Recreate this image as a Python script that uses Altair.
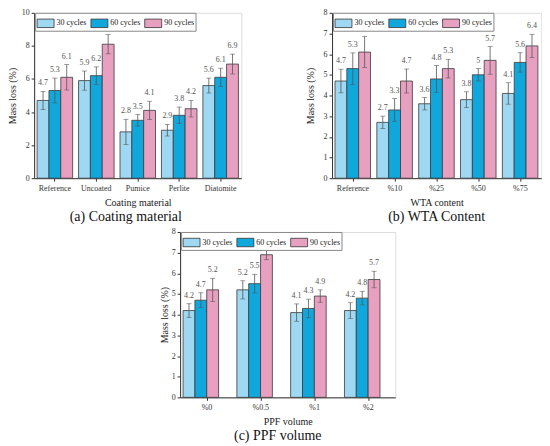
import altair as alt
import pandas as pd

SERIES = ["30 cycles", "60 cycles", "90 cycles"]
COLORS = ["#9ED8F2", "#10A8DC", "#E8A0C0"]

A_cats = ["Reference", "Uncoated", "Pumice", "Perlite", "Diatomite"]
A_30 = [4.7, 5.9, 2.8, 2.9, 5.6]
A_60 = [5.3, 6.2, 3.5, 3.8, 6.1]
A_90 = [6.1, 8.1, 4.1, 4.2, 6.9]
A_e30 = [0.55, 0.58, 0.76, 0.35, 0.45]
A_e60 = [0.75, 0.53, 0.35, 0.5, 0.55]
A_e90 = [0.77, 0.58, 0.55, 0.5, 0.6]

B_cats = ["Reference", "%10", "%25", "%50", "%75"]
B_30 = [4.7, 2.7, 3.6, 3.8, 4.1]
B_60 = [5.3, 3.3, 4.8, 5.0, 5.6]
B_90 = [6.1, 4.7, 5.3, 5.7, 6.4]
B_e30 = [0.57, 0.3, 0.3, 0.38, 0.52]
B_e60 = [0.76, 0.55, 0.65, 0.3, 0.47]
B_e90 = [0.75, 0.58, 0.45, 0.67, 0.56]

C_cats = ["%0", "%0.5", "%1", "%2"]
C_30 = [4.2, 5.2, 4.1, 4.2]
C_60 = [4.7, 5.5, 4.3, 4.8]
C_90 = [5.2, 6.9, 4.9, 5.7]
C_e30 = [0.33, 0.44, 0.42, 0.38]
C_e60 = [0.36, 0.45, 0.45, 0.33]
C_e90 = [0.56, 0.24, 0.3, 0.4]

FONT = "Liberation Serif"
H = 166


def make_df(cats, vals, errs):
    rows = []
    for s, v_list, e_list in zip(SERIES, vals, errs):
        for c, v, e in zip(cats, v_list, e_list):
            rows.append({"cat": c, "series": s, "value": v,
                         "lo": v - e, "hi": v + e, "label": f"{v:g}"})
    return pd.DataFrame(rows)


def panel(cats, vals, errs, xtitle, caption, ymax, yvals, width, pad,
          title_pad, cap_dx):
    df = make_df(cats, vals, errs)
    base = alt.Chart(df).encode(
        x=alt.X("cat:N", sort=cats,
                scale=alt.Scale(paddingInner=0, paddingOuter=0),
                axis=alt.Axis(title=xtitle, labelAngle=0, labelFont=FONT,
                              labelFontSize=8, labelColor="#333",
                              titleFont=FONT, titleFontSize=10,
                              titleFontWeight="normal", titleColor="#222",
                              titlePadding=5, domainColor="#333",
                              tickColor="#333", tickSize=3, labelPadding=3,
                              labelOverlap=False)),
        xOffset=alt.XOffset("series:N", sort=SERIES,
                            scale=alt.Scale(paddingInner=0, paddingOuter=pad)),
    )
    yscale = alt.Scale(domain=[0, ymax], nice=False)

    def yaxis():
        return alt.Axis(title="Mass loss (%)", values=yvals, grid=False,
                        labelFont=FONT, labelFontSize=8, labelColor="#333",
                        titleFont=FONT, titleFontSize=10,
                        titleFontWeight="normal",
                        titleColor="#222", titlePadding=title_pad,
                        domainColor="#333", tickColor="#333", tickSize=3,
                        labelPadding=2, labelOverlap=False, labelFlush=False)

    bars = base.mark_bar(stroke="#3a3a3a", strokeWidth=0.8).encode(
        y=alt.Y("value:Q", scale=yscale, axis=yaxis()),
        color=alt.Color("series:N", sort=SERIES,
                        scale=alt.Scale(domain=SERIES, range=COLORS),
                        legend=alt.Legend(
                            orient="none", legendX=1, legendY=0,
                            direction="horizontal", title=None,
                            symbolType="M-1,-0.5H1V0.5H-1Z", symbolSize=289,
                            symbolStrokeColor="#333", symbolStrokeWidth=0.8,
                            symbolOpacity=1,
                            labelFont=FONT, labelFontSize=8,
                            labelColor="#222", labelOffset=2,
                            columnPadding=2, padding=1.5,
                            fillColor="white", strokeColor="#888")),
    )
    rule = base.mark_rule(color="#555", strokeWidth=0.8).encode(
        y=alt.Y("lo:Q", scale=yscale, axis=yaxis()), y2="hi:Q")
    cap_hi = base.mark_tick(color="#555", size=5, thickness=0.8).encode(
        y=alt.Y("hi:Q", scale=yscale, axis=yaxis()))
    cap_lo = base.mark_tick(color="#555", size=5, thickness=0.8).encode(
        y=alt.Y("lo:Q", scale=yscale, axis=yaxis()))
    text = base.mark_text(font=FONT, fontSize=8, color="#555", dy=-4,
                          baseline="bottom").encode(
        y=alt.Y("hi:Q", scale=yscale, axis=yaxis()), text="label:N")
    return alt.layer(bars, rule, cap_hi, cap_lo, text).properties(
        width=width, height=H,
        title=alt.TitleParams(caption, orient="bottom", font=FONT,
                              fontSize=14, fontWeight="normal", color="#111",
                              offset=3, frame="group", anchor="middle",
                              dx=cap_dx),
    )


pa = panel(A_cats, [A_30, A_60, A_90], [A_e30, A_e60, A_e90],
           "Coating material", "(a) Coating material", 10,
           [0, 2, 4, 6, 8, 10], 208, 0.25, 4, -12)
pb = panel(B_cats, [B_30, B_60, B_90], [B_e30, B_e60, B_e90],
           "WTA content", "(b) WTA Content", 8,
           [0, 1, 2, 3, 4, 5, 6, 7, 8], 210, 0.19, 8, 0)
pc = panel(C_cats, [C_30, C_60, C_90], [C_e30, C_e60, C_e90],
           "PPF volume", "(c) PPF volume", 8,
           [0, 1, 2, 3, 4, 5, 6, 7, 8], 216, 0.43, 2, -10)

top = alt.hconcat(pa, pb, spacing=62).resolve_scale(
    color="independent", y="independent").resolve_legend(color="independent")
chart = alt.vconcat(top, pc, spacing=2, center=True).resolve_scale(
    color="independent").resolve_legend(color="independent").properties(
    padding={"left": -2, "top": -1, "right": 0, "bottom": 0}
).configure_view(stroke=None).configure(background="white")

chart.save("out.html", embed_options={"renderer": "svg", "actions": False})
